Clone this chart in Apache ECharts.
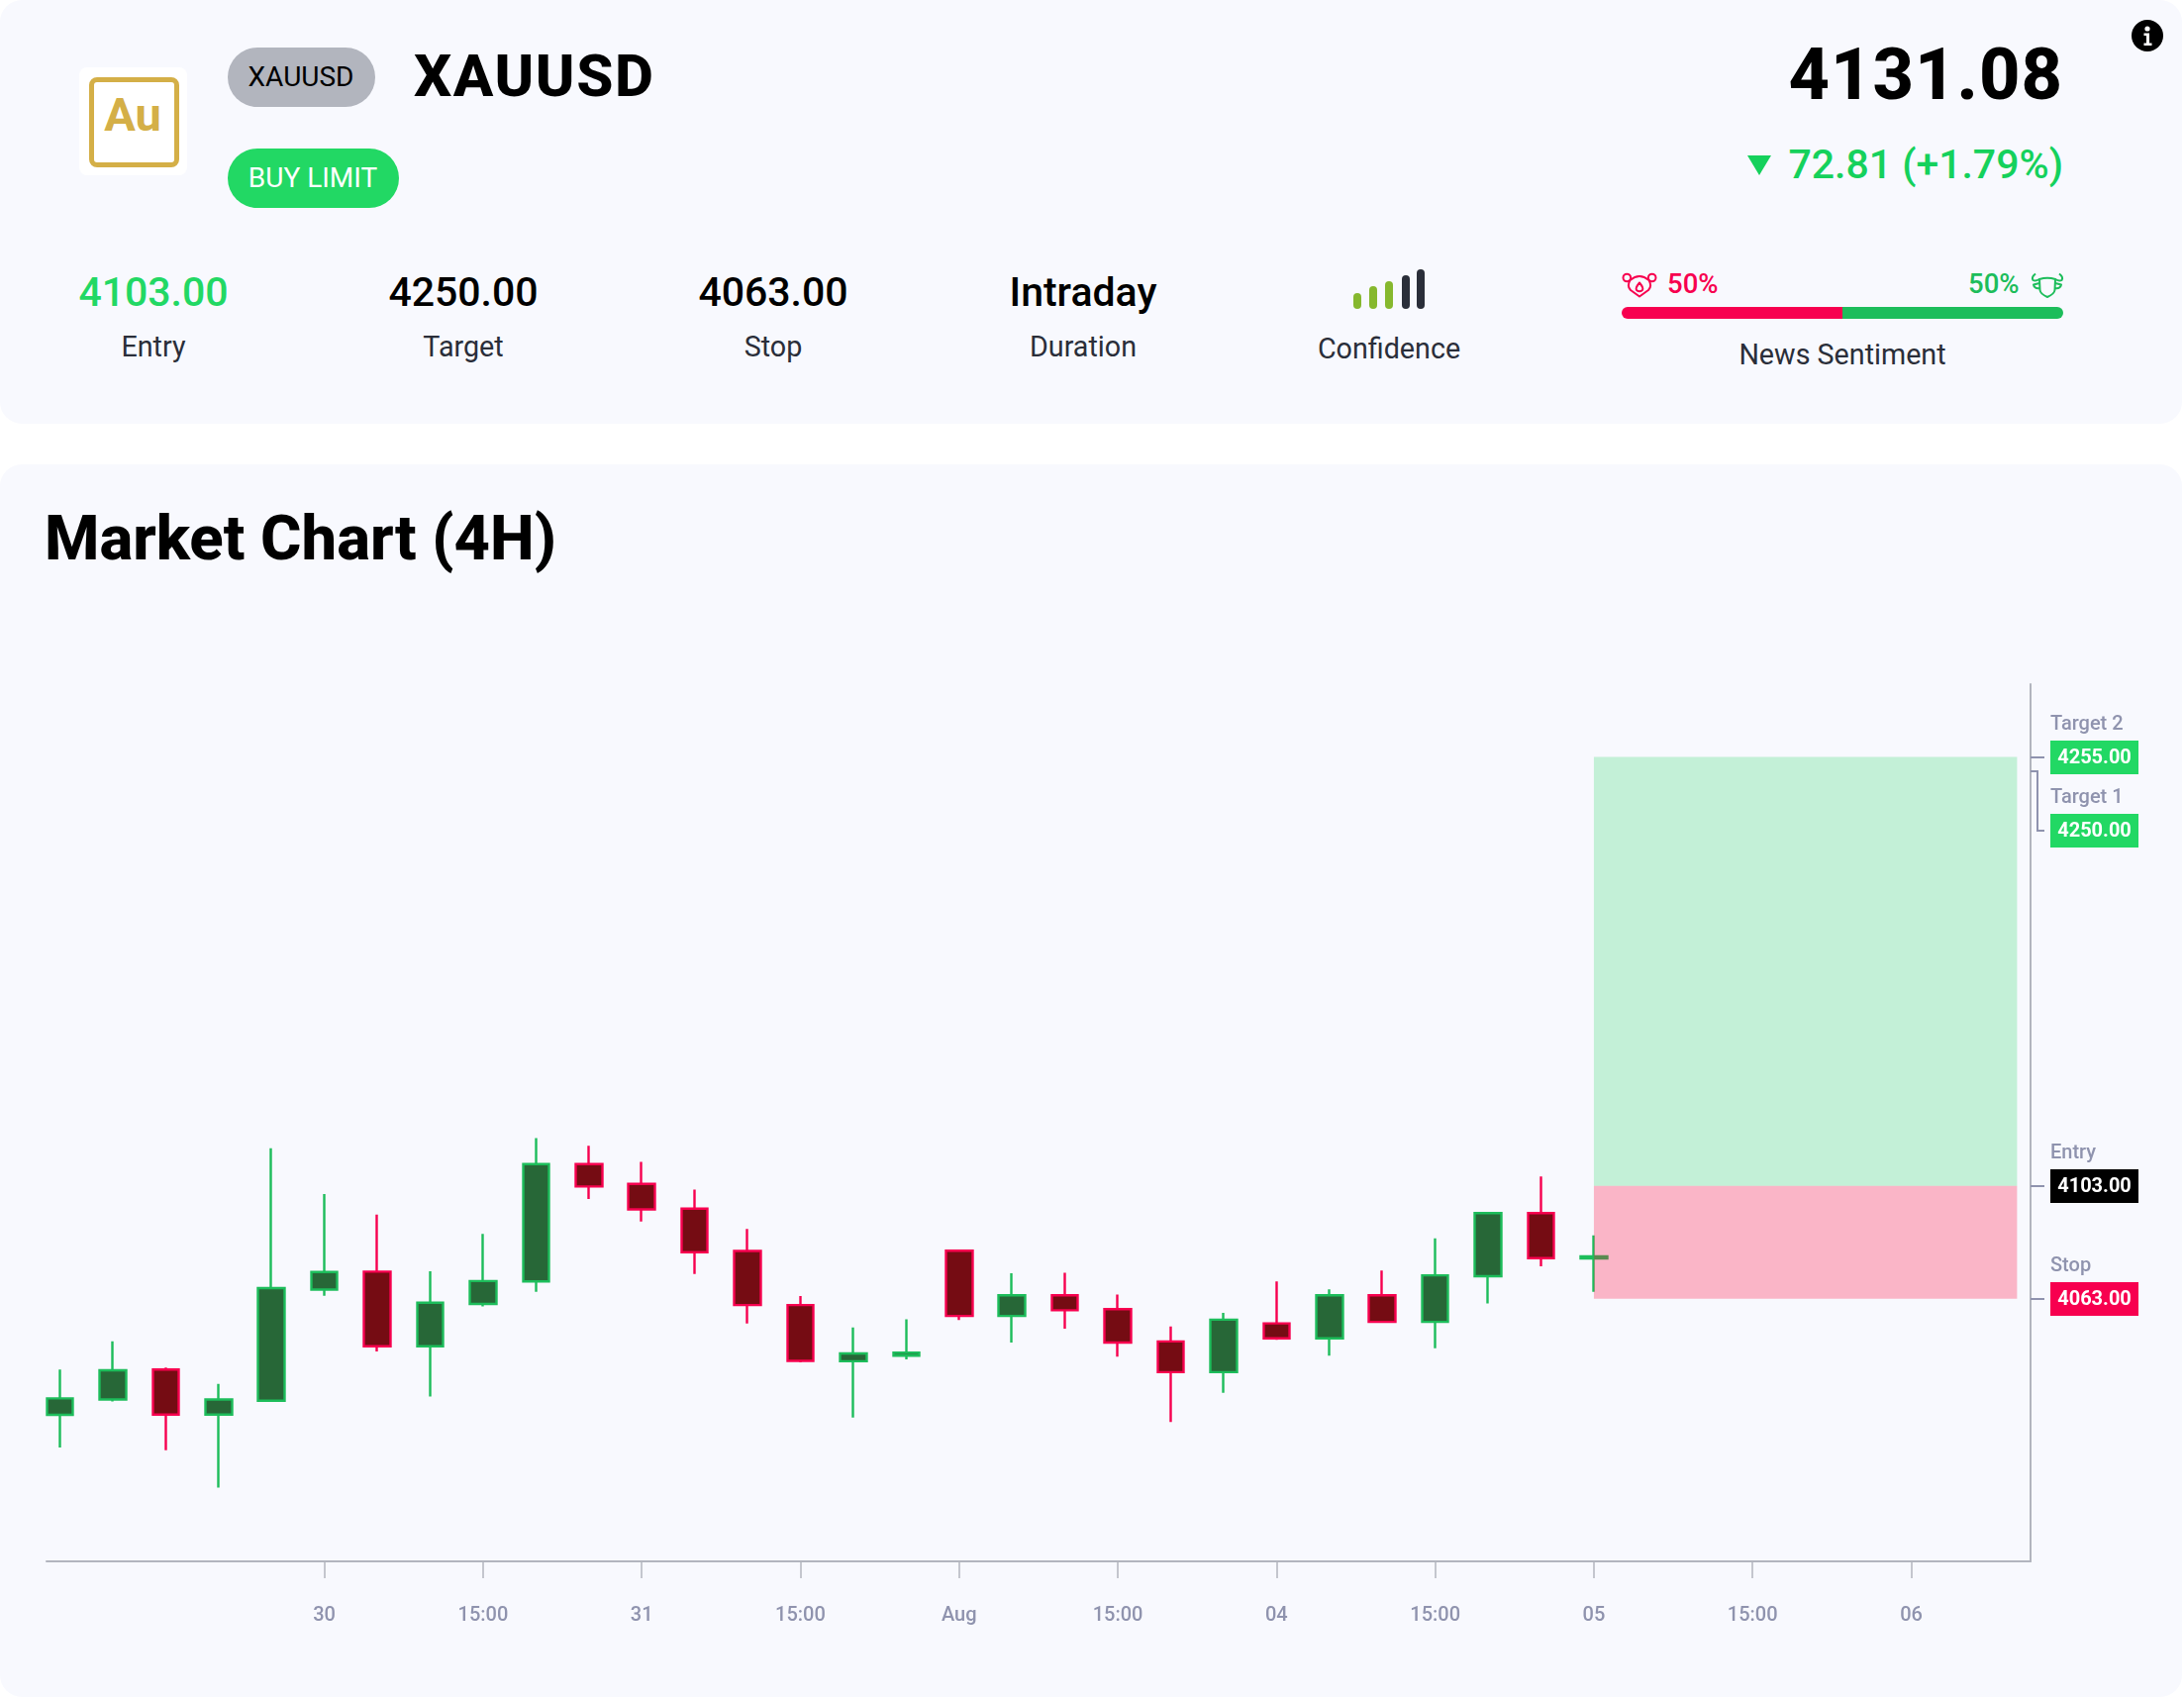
<!DOCTYPE html>
<html>
<head>
<meta charset="utf-8">
<script src="https://cdn.jsdelivr.net/npm/echarts@6/dist/echarts.min.js"></script>
<style>
html,body{margin:0;padding:0;background:#fff;width:2206px;height:1714px;overflow:hidden;font-family:Roboto,sans-serif}
.card{position:absolute;left:0;width:2204px;background:#f8f9fe;border-radius:22px}
.t{position:absolute;white-space:nowrap;line-height:1}
.c{transform:translateX(-50%)}
.val{font-size:41px;font-weight:500;color:#000;top:275px}
.lab{font-size:28.7px;color:#2a2e39}
.pill{position:absolute;left:230px;height:60px;border-radius:30px}
.bar{position:absolute;width:8px;border-radius:4px}
#chart{position:absolute;left:0;top:0;width:2206px;height:1714px}
</style>
</head>
<body>
<div class="card" style="top:0;height:428px"></div>
<div class="card" style="top:469px;height:1245px"></div>

<div style="position:absolute;left:80px;top:68px;width:109px;height:109px;background:#fff;border-radius:8px"></div>
<div style="position:absolute;left:90px;top:78px;width:81px;height:81px;border:5px solid #d4af47;border-radius:8px"></div>
<div class="t c" style="left:134px;top:88px;font:bold 47px Roboto,sans-serif;color:#d4af47">Au</div>

<div class="pill" style="top:48px;width:149px;background:#b2b5be"></div>
<div class="t c" style="left:304px;top:64px;font-size:28px;color:#000">XAUUSD</div>
<div class="pill" style="top:150px;width:173px;background:#22d864"></div>
<div class="t c" style="left:316px;top:166px;font-size:28px;color:#fff">BUY LIMIT</div>
<div class="t" style="left:418px;top:47px;font-size:60px;font-weight:800;color:#000;letter-spacing:1.6px">XAUUSD</div>

<div class="t" id="price" style="right:122px;top:40px;font-size:72px;font-weight:800;color:#000;letter-spacing:1px"></div>
<div class="t" style="left:1765px;top:150px;font-size:0;width:0;height:0;border-left:12.5px solid transparent;border-right:12.5px solid transparent;border-top:20px solid #15d15c;margin-top:7px"></div>
<div class="t" id="chg" style="right:122px;top:146px;font-size:41px;font-weight:500;color:#15d15c"></div>

<svg style="position:absolute;left:2153px;top:20px" width="32" height="32" viewBox="0 0 32 32"><circle cx="16" cy="16" r="16" fill="#000"/><circle cx="16" cy="9" r="2.6" fill="#fff"/><path d="M12.5 13.5h5.5v10h2.5v2.5h-8v-2.5h2.5v-7.5h-2.5z" fill="#fff"/></svg>

<div class="t val c" id="vEntry" style="left:155px;color:#22d864"></div>
<div class="t lab c" style="left:155px;top:336px">Entry</div>
<div class="t val c" id="vTarget" style="left:468px"></div>
<div class="t lab c" style="left:468px;top:336px">Target</div>
<div class="t val c" id="vStop" style="left:781px"></div>
<div class="t lab c" style="left:781px;top:336px">Stop</div>
<div class="t val c" style="left:1094px">Intraday</div>
<div class="t lab c" style="left:1094px;top:336px">Duration</div>

<div class="bar" style="left:1367px;top:296px;height:16px;background:#86b82e"></div>
<div class="bar" style="left:1383px;top:289px;height:23px;background:#86b82e"></div>
<div class="bar" style="left:1399px;top:284px;height:28px;background:#86b82e"></div>
<div class="bar" style="left:1416px;top:278px;height:34px;background:#2a2e39"></div>
<div class="bar" style="left:1431px;top:272px;height:40px;background:#2a2e39"></div>
<div class="t lab c" style="left:1403px;top:338px">Confidence</div>

<svg style="position:absolute;left:1638px;top:275px" width="36" height="26" viewBox="0 0 36 26" fill="none" stroke="#f7004f" stroke-width="2" stroke-linejoin="round"><circle cx="5.3" cy="5.5" r="3.8"/><circle cx="30.7" cy="5.5" r="3.8"/><path d="M8.5 8 Q18 0 27.5 8 Q31 14 27 18 L18 24.5 L9 18 Q5 14 8.5 8Z"/><path d="M18 10.5 Q13.5 16 15 18 Q18 20.5 21 18 Q22.5 16 18 10.5Z"/></svg>
<div class="t" style="left:1684px;top:273px;font-size:27.5px;font-weight:500;color:#f7004f">50%</div>
<div class="t" style="left:1988px;top:273px;font-size:27.5px;font-weight:500;color:#1dbd5b">50%</div>
<svg style="position:absolute;left:2050px;top:275px" width="36" height="26" viewBox="0 0 36 26" fill="none" stroke="#1dbd5b" stroke-width="2" stroke-linejoin="round"><path d="M6 1.5 Q1.5 5 3.5 8 Q6 9.5 10 7"/><path d="M30 1.5 Q34.5 5 32.5 8 Q30 9.5 26 7"/><path d="M10 7 Q18 4.5 26 7 L25.5 18 Q25 22 18 25 Q11 22 10.5 18 Z"/><path d="M10 11 L4 12.5 Q5 17 10.5 16"/><path d="M26 11 L32 12.5 Q31 17 25.5 16"/></svg>
<div style="position:absolute;left:1638px;top:310px;width:223px;height:12px;background:#f7004f;border-radius:6px 0 0 6px"></div>
<div style="position:absolute;left:1861px;top:310px;width:223px;height:12px;background:#1dbd5b;border-radius:0 6px 6px 0"></div>
<div class="t lab c" style="left:1861px;top:344px">News Sentiment</div>

<div id="chart"></div>
<script>
// Header values
const lastPrice = '4131.08';
const change = '72.81 (+1.79%)';
const entryText = '4103.00', targetText = '4250.00', stopText = '4063.00';

// Candles (4H), one entry per bar
const opens  = [4021.81,4027.26,4037.89,4021.94,4026.86,4066.20,4072.58,4046.13,4061.15,4069.12,4110.72,4103.68,4094.91,4079.89,4060.75,4040.81,4042.81,4080.02,4056.89,4064.20,4059.29,4047.86,4036.96,4054.24,4048.92,4064.20,4054.77,4070.98,4093.31,4077.23];
const closes = [4027.66,4037.62,4021.94,4027.26,4066.73,4072.44,4046.13,4061.55,4069.26,4110.72,4102.75,4094.64,4079.49,4060.75,4040.95,4043.60,4043.87,4056.89,4064.20,4058.89,4047.46,4036.96,4055.57,4048.92,4064.20,4054.77,4071.25,4093.31,4077.36,4078.03];
const lows   = [4010.24,4026.59,4009.31,3996.02,4026.50,4064.07,4044.27,4028.32,4060.22,4065.40,4098.36,4090.39,4071.78,4054.24,4040.41,4020.88,4041.48,4055.43,4047.46,4052.38,4042.41,4019.28,4029.65,4048.39,4042.81,4054.60,4045.46,4061.28,4074.44,4065.40];
const highs  = [4037.89,4047.86,4038.55,4032.84,4116.30,4100.09,4092.78,4072.71,4086.00,4119.89,4117.23,4111.52,4101.68,4087.73,4063.94,4052.77,4055.70,4080.29,4072.05,4072.18,4064.47,4053.17,4057.96,4069.12,4066.33,4072.98,4084.41,4093.71,4106.34,4085.47];

// X axis ticks: bar index and label
const tickIndexes = [5,8,11,14,17,20,23,26,29,32,35];
const tickLabels  = ['30','15:00','31','15:00','Aug','15:00','04','15:00','05','15:00','06'];

// Trade levels
const levelNames  = ['Target 2','Target 1','Entry','Stop'];
const levelValues = [4255,4250,4103,4063];
const levelColors = ['#22d864','#22d864','#000000','#f7004f'];

// Trade zones: from, to price, and bar-index span
const zoneHighs = [4255,4103];
const zoneLows  = [4103,4063];
const zoneStart = 29, zoneEnd = 37;
const zoneColors = ['rgba(35,215,100,0.25)','rgba(255,0,50,0.27)'];

document.getElementById('price').textContent = lastPrice;
document.getElementById('chg').textContent = change;
document.getElementById('vEntry').textContent = entryText;
document.getElementById('vTarget').textContent = targetText;
document.getElementById('vStop').textContent = stopText;

const candleData = opens.map((o,i)=>[i,o,closes[i],lows[i],highs[i]]);
const gray = '#8f93ae', axisGray = '#b2b5be';
const chart = echarts.init(document.getElementById('chart'), null, {width:2206,height:1714});
chart.setOption({
  animation:false,
  backgroundColor:'transparent',
  title:{text:'Market Chart (4H)',left:45,top:518,padding:0,
    textStyle:{fontFamily:'Roboto',fontWeight:800,fontSize:63.3,color:'#000'}},
  grid:{left:47,right:155,top:691,bottom:137,containLabel:false},
  xAxis:{type:'value',min:-0.252,max:37.255,
    axisLine:{show:true,onZero:false,lineStyle:{color:axisGray,width:2}},
    axisTick:{show:true,length:17,lineStyle:{color:axisGray,width:1.5},customValues:tickIndexes},
    axisLabel:{show:true,margin:45,fontFamily:'Roboto',fontWeight:500,fontSize:20,color:gray,
      customValues:tickIndexes,
      formatter:v=>tickLabels[tickIndexes.indexOf(v)]||''},
    splitLine:{show:false}},
  yAxis:{type:'value',position:'right',min:3969.9,max:4280.8,
    axisLine:{show:true,onZero:false,lineStyle:{color:axisGray,width:2}},
    axisTick:{show:false},axisLabel:{show:false},splitLine:{show:false}},
  series:[
    {type:'candlestick',name:'XAUUSD',data:candleData,encode:{x:0,y:[1,2,3,4]},
      barWidth:27,z:3,
      itemStyle:{color:'#276737',color0:'#750c13',borderColor:'#1dbd5b',borderColor0:'#f7004f',borderWidth:2.4}},
    {type:'custom',name:'zones',z:5,silent:true,
      data:zoneHighs.map((h,i)=>[h,zoneLows[i]]),
      encode:{y:[0,1]},
      renderItem:(p,api)=>{
        const a=api.coord([zoneStart,api.value(0)]), b=api.coord([zoneEnd,api.value(1)]);
        return {type:'rect',shape:{x:a[0],y:a[1],width:b[0]-a[0],height:b[1]-a[1]},
          style:{fill:zoneColors[p.dataIndex]}};
      }},
    {type:'custom',name:'levels',z:6,silent:true,clip:false,
      data:levelValues.map(v=>[v]),
      encode:{y:0},
      renderItem:(p,api)=>{
        const i=p.dataIndex, y=Math.round(api.coord([0,api.value(0)])[1]);
        const ax=p.coordSys.x+p.coordSys.width;
        const shift = levelNames[i]==='Target 1'?60:0;
        const boxX=ax+20, boxW=89, boxH=34, cy=y+shift;
        const line = shift
          ? {type:'polyline',shape:{points:[[ax,y],[ax+7,y],[ax+7,y+shift],[ax+14,y+shift]]},style:{fill:null,stroke:gray,lineWidth:2}}
          : {type:'line',shape:{x1:ax,y1:y,x2:ax+14,y2:y},style:{stroke:gray,lineWidth:2}};
        return {type:'group',children:[
          line,
          {type:'rect',shape:{x:boxX,y:cy-boxH/2,width:boxW,height:boxH},style:{fill:levelColors[i]}},
          {type:'text',style:{x:boxX+boxW/2,y:cy+1,text:levelValues[i].toFixed(2),fill:'#fff',align:'center',verticalAlign:'middle',
            font:'700 20px Roboto'}},
          {type:'text',style:{x:boxX,y:cy-33,text:levelNames[i],fill:gray,align:'left',verticalAlign:'middle',
            font:'500 20px Roboto'}}
        ]};
      }}
  ]
});
</script>
</body>
</html>
